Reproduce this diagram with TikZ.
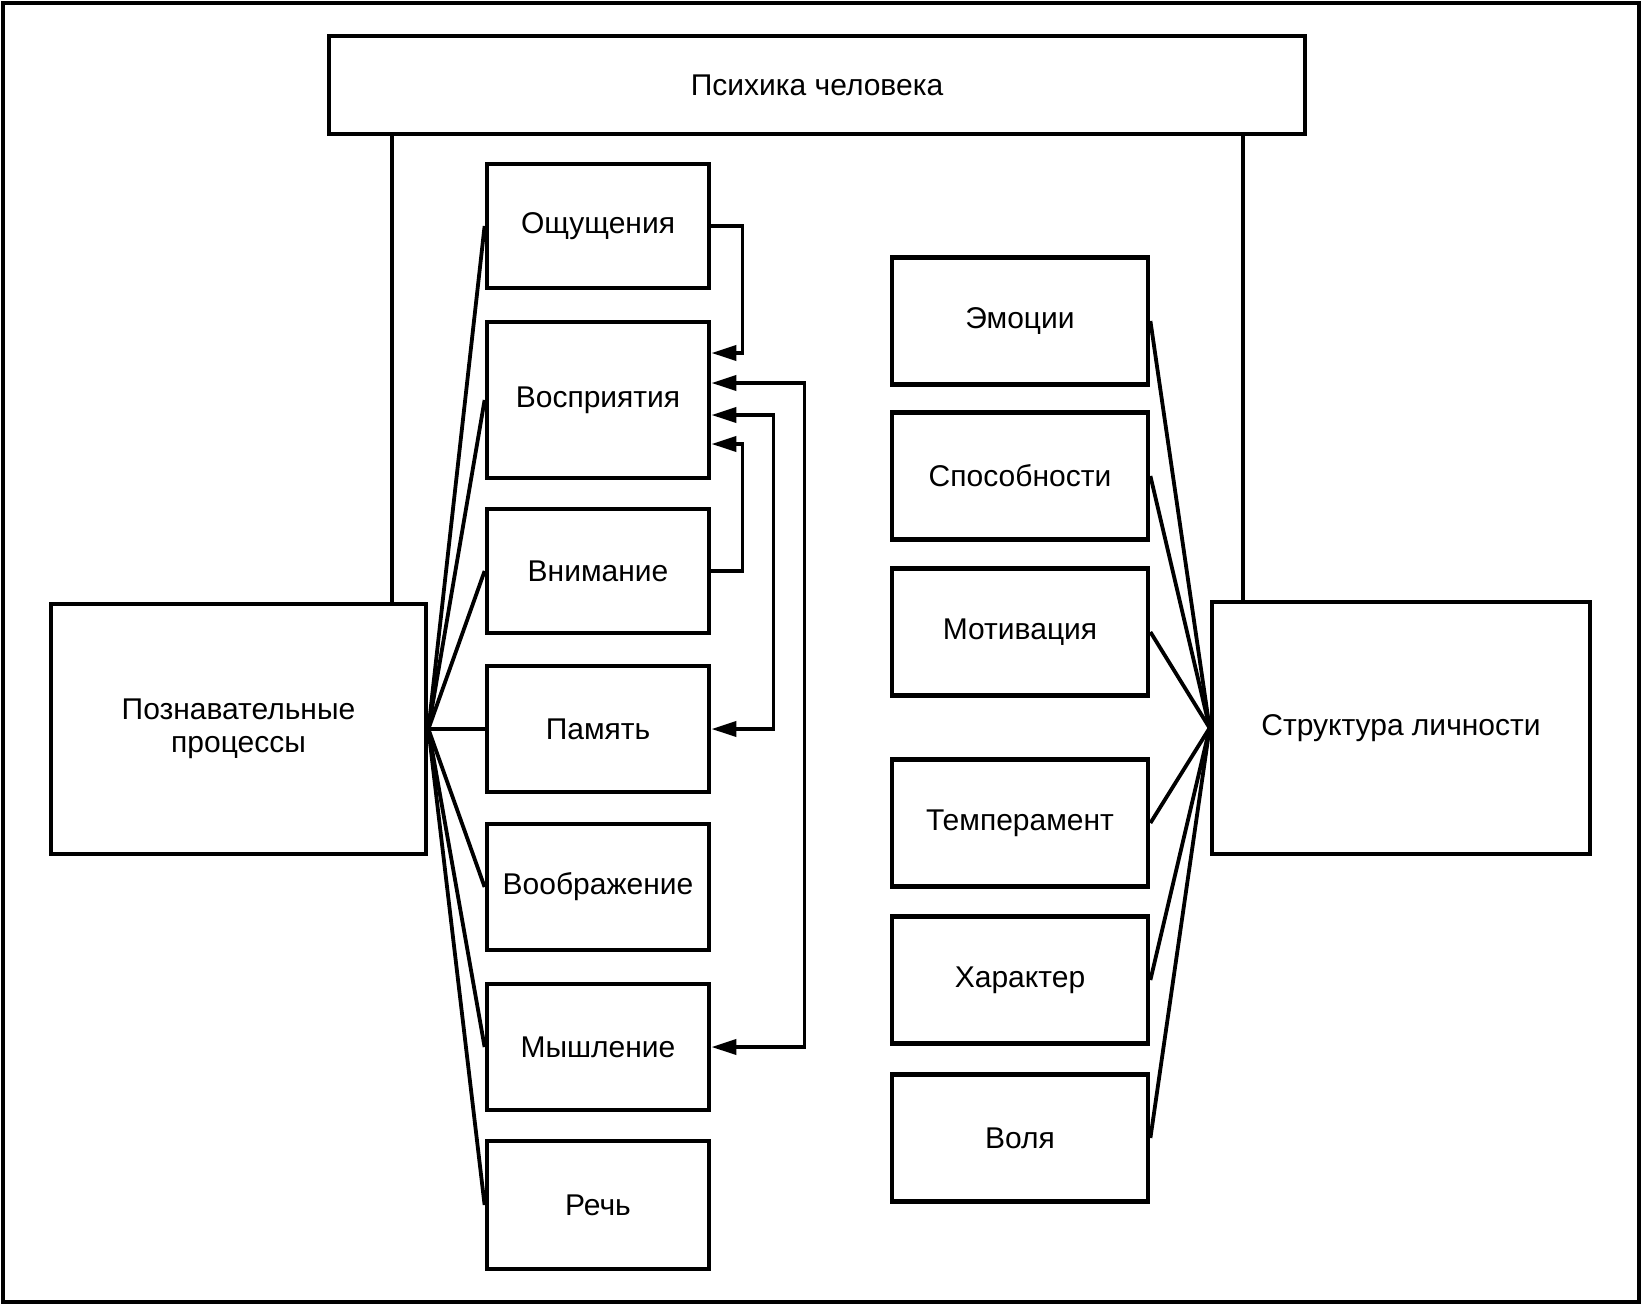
\documentclass[tikz,border=0pt]{standalone}
\usepackage{fontspec}
\setmainfont{Liberation Sans}
\usetikzlibrary{arrows.meta,calc}
\begin{document}
\begin{tikzpicture}[x=0.5pt,y=-0.5pt,
  box/.style={draw,line width=2.4pt,inner sep=0pt,align=center,font=\fontsize{15}{16.5}\selectfont},
  lbox/.style={box,minimum width=111pt},
  rbox/.style={box,minimum width=128pt,minimum height=63.5pt},
  conn/.style={line width=1.9pt},
  tip/.style={},
  arr/.style={line width=1.9pt,-{Triangle[length=12.5pt,width=7.5pt]}},
  darr/.style={line width=1.9pt,{Triangle[length=12.5pt,width=7.5pt]}-{Triangle[length=12.5pt,width=7.5pt]}}]
\useasboundingbox (0,0) rectangle (1642,1306);
\draw[line width=2.4pt] (3,3) rectangle (1639,1302);

\node[box,minimum width=488pt,minimum height=49pt] (psy) at (817,85) {Психика человека};
\node[box,minimum width=187.5pt,minimum height=125pt] (cog) at (238.5,729) {Познавательные\\процессы};
\node[box,minimum width=189pt,minimum height=126pt] (pers) at (1401,728) {Структура личности};

\node[lbox,minimum height=62pt] (oshch) at (598,226) {Ощущения};
\node[lbox,minimum height=78pt] (vospr) at (598,400) {Восприятия};
\node[lbox,minimum height=62pt] (vnim) at (598,571) {Внимание};
\node[lbox,minimum height=63pt] (pam) at (598,729) {Память};
\node[lbox,minimum height=63pt] (voobr) at (598,887) {Воображение};
\node[lbox,minimum height=63pt] (mysh) at (598,1047) {Мышление};
\node[lbox,minimum height=64pt] (rech) at (598,1205) {Речь};

\node[rbox] (emo) at (1020,321) {Эмоции};
\node[rbox] (spos) at (1020,476) {Способности};
\node[rbox] (motiv) at (1020,632) {Мотивация};
\node[rbox] (temp) at (1020,823) {Темперамент};
\node[rbox] (har) at (1020,980) {Характер};
\node[rbox] (vol) at (1020,1138) {Воля};

\coordinate (lv) at (392,0);
\coordinate (rv) at (1243,0);
\draw[conn] (psy.south -| lv) -- (cog.north -| lv);
\draw[conn] (psy.south -| rv) -- (pers.north -| rv);

\foreach \n in {oshch,vospr,vnim,pam,voobr,mysh,rech}
  \draw[conn] (cog.east) -- (\n.west);
\foreach \n in {emo,spos,motiv,temp,har,vol}
  \draw[conn] (pers.west) -- (\n.east);

\draw[arr] (oshch.east) -- ++(31,0) |- ($(vospr.east)+(0,-47)$);
\draw[darr] ($(vospr.east)+(0,-17)$) -- ++(93,0) |- (mysh.east);
\draw[darr] ($(vospr.east)+(0,15)$) -- ++(62,0) |- (pam.east);
\draw[arr] (vnim.east) -- ++(31,0) |- ($(vospr.east)+(0,44)$);
\end{tikzpicture}
\end{document}
